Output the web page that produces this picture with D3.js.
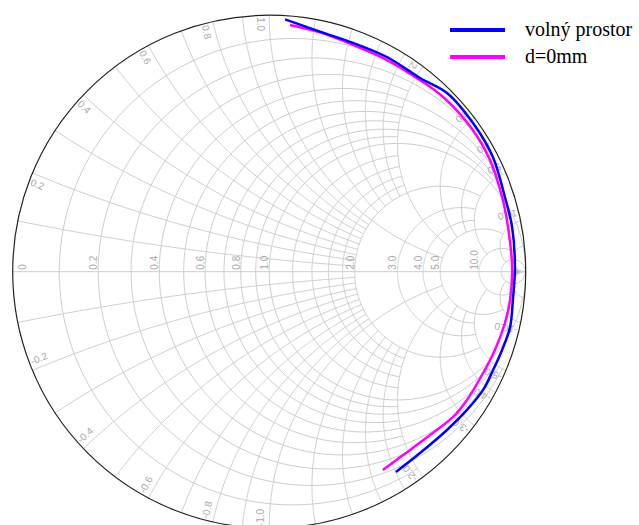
<!DOCTYPE html>
<html>
<head>
<meta charset="utf-8">
<script src="https://d3js.org/d3.v7.min.js"></script>
<style>
body { margin: 0; background: #fff; }
.grid { fill: none; stroke: #cdcdcd; stroke-width: 1px; }
.glabel { font-family: "Liberation Sans", Arial, sans-serif; font-size: 10px; fill: #a9a9a9; }
.legend { font-family: "Liberation Serif", "Times New Roman", serif; font-size: 20px; fill: #000; }
</style>
</head>
<body>
<script>
var volnyRe = [0.062, 0.198, 0.327, 0.459, 0.588, 0.693, 0.800, 0.872, 0.919, 0.947, 0.958, 0.950, 0.939, 0.908, 0.873, 0.834, 0.771, 0.693, 0.588, 0.494];
var volnyIm = [0.984, 0.936, 0.892, 0.837, 0.755, 0.697, 0.572, 0.447, 0.291, 0.174, 0.018, -0.110, -0.216, -0.305, -0.383, -0.461, -0.539, -0.617, -0.707, -0.781];
var d0Re = [0.081, 0.198, 0.327, 0.459, 0.588, 0.678, 0.788, 0.861, 0.908, 0.931, 0.947, 0.939, 0.919, 0.880, 0.834, 0.771, 0.717, 0.627, 0.522, 0.443];
var d0Im = [0.962, 0.933, 0.884, 0.825, 0.747, 0.681, 0.560, 0.435, 0.291, 0.174, 0.018, -0.110, -0.200, -0.305, -0.395, -0.500, -0.566, -0.637, -0.715, -0.773];

var seriesNames = ["volný prostor", "d=0mm"];
var seriesColors = ["#0000ff", "#ff00ff"];

// grid: resistance circles and reactance arcs, with the limit where each one stops
var rCircles = [0.1, 0.2, 0.3, 0.4, 0.5, 0.6, 0.7, 0.8, 0.9, 1.0, 1.2, 1.4, 1.6, 1.8, 2, 3, 4, 5, 10, 20];
var rLimits  = [2, 5, 2, 5, 2, 5, 2, 5, 2, 1e9, 2, 2, 2, 2, 5, 5, 5, 10, 20, 1e9];
var xArcs    = [0.1, 0.2, 0.3, 0.4, 0.5, 0.6, 0.7, 0.8, 0.9, 1.0, 1.2, 1.4, 1.6, 1.8, 2, 3, 4, 5, 10, 20];
var xLimits  = [2, 2, 2, 2, 2, 2, 2, 2, 2, 5, 2, 2, 2, 2, 5, 5, 5, 10, 20, 1e9];

var rLabels = [0, 0.2, 0.4, 0.6, 0.8, 1.0, 2.0, 3.0, 4.0, 5.0, 10.0];
var xLabels = [0.2, 0.4, 0.6, 0.8, 1.0, 2.0, 3.0, 4.0, 5.0, 10.0];

var width = 639, height = 525;
var cx = 269.2, cy = 271.7, R = 256.5;

var svg = d3.select("body").append("svg")
    .attr("width", width)
    .attr("height", height);

var gx = d3.scaleLinear().domain([-1, 1]).range([cx - R, cx + R]);
var gy = d3.scaleLinear().domain([-1, 1]).range([cy + R, cy - R]);

function zToG(r, x) {
    var den = (r + 1) * (r + 1) + x * x;
    return [(r * r + x * x - 1) / den, 2 * x / den];
}

var line = d3.line()
    .x(d => gx(d[0]))
    .y(d => gy(d[1]));

var smooth = d3.line()
    .x(d => gx(d[0]))
    .y(d => gy(d[1]))
    .curve(d3.curveCatmullRom.alpha(0.5));

function rPath(r, xmax) {
    var t0 = Math.atan(xmax), pts = [];
    for (var i = 0; i <= 200; i++) {
        var t = -t0 + 2 * t0 * i / 200;
        pts.push(zToG(r, Math.tan(t)));
    }
    return line(pts);
}

function xPath(x, rmax) {
    var t1 = Math.atan(rmax), pts = [];
    for (var i = 0; i <= 200; i++) {
        pts.push(zToG(Math.tan(t1 * i / 200), x));
    }
    return line(pts);
}

var grid = svg.append("g");

grid.selectAll("path.rc")
    .data(rCircles)
    .enter()
    .append("path")
    .attr("class", "grid rc")
    .attr("d", (d, i) => rPath(d, rLimits[i]));

var xBoth = [];
xArcs.forEach((x, i) => {
    xBoth.push({x: x, lim: xLimits[i]});
    xBoth.push({x: -x, lim: xLimits[i]});
});

grid.selectAll("path.xa")
    .data(xBoth)
    .enter()
    .append("path")
    .attr("class", "grid xa")
    .attr("d", d => xPath(d.x, d.lim));

grid.append("line")
    .attr("class", "grid")
    .attr("x1", gx(-1)).attr("y1", gy(0))
    .attr("x2", gx(1)).attr("y2", gy(0));

// labels on the real axis
svg.append("g").selectAll("text")
    .data(rLabels)
    .enter()
    .append("text")
    .attr("class", "glabel")
    .attr("transform", d => {
        var px = gx((d - 1) / (d + 1)) - 1;
        if (d === 0) px += 14;
        return "translate(" + px + "," + (gy(0) - 2) + ") rotate(-90)";
    })
    .text(d => d === 0 ? "0" : d.toFixed(1));

// labels round the rim
var rimData = [];
xLabels.forEach(x => {
    rimData.push({v: x, th: 2 * Math.atan(1 / x)});
    rimData.push({v: -x, th: -2 * Math.atan(1 / x)});
});

svg.append("g").selectAll("text")
    .data(rimData)
    .enter()
    .append("text")
    .attr("class", "glabel")
    .attr("transform", d => {
        var px = cx + (R - 2) * Math.cos(d.th);
        var py = cy - (R - 2) * Math.sin(d.th);
        return "translate(" + px + "," + py + ") rotate(" + (180 - d.th * 180 / Math.PI) + ")";
    })
    .attr("dy", d => d.v > 0 ? 12 : -5)
    .text(d => d.v.toFixed(1));

// small marker at the open-circuit point
svg.append("path")
    .attr("d", "M" + (cx + R - 11) + "," + (cy - 4) + "L" + (cx + R - 5) + "," + cy + "L" + (cx + R - 11) + "," + (cy + 4) + "Z")
    .attr("fill", "#b5b5b5");

// outer circle
svg.append("circle")
    .attr("cx", cx)
    .attr("cy", cy)
    .attr("r", R)
    .attr("fill", "none")
    .attr("stroke", "#222")
    .attr("stroke-width", 1.2);

// measured curves
var series = [
    {name: seriesNames[1], color: seriesColors[1], re: d0Re, im: d0Im},
    {name: seriesNames[0], color: seriesColors[0], re: volnyRe, im: volnyIm}
];

svg.append("g").selectAll("path")
    .data(series)
    .enter()
    .append("path")
    .attr("fill", "none")
    .attr("stroke", d => d.color)
    .attr("stroke-width", 2.5)
    .attr("stroke-linejoin", "round")
    .attr("d", d => smooth(d.re.map((v, i) => [v, d.im[i]])));

// legend
var legend = svg.append("g");
seriesNames.forEach((n, i) => {
    legend.append("line")
        .attr("x1", 450).attr("x2", 505)
        .attr("y1", 30 + i * 27).attr("y2", 30 + i * 27)
        .attr("stroke", seriesColors[i])
        .attr("stroke-width", 4);
    legend.append("text")
        .attr("class", "legend")
        .attr("x", 525)
        .attr("y", 36 + i * 27)
        .text(n);
});
</script>
</body>
</html>
